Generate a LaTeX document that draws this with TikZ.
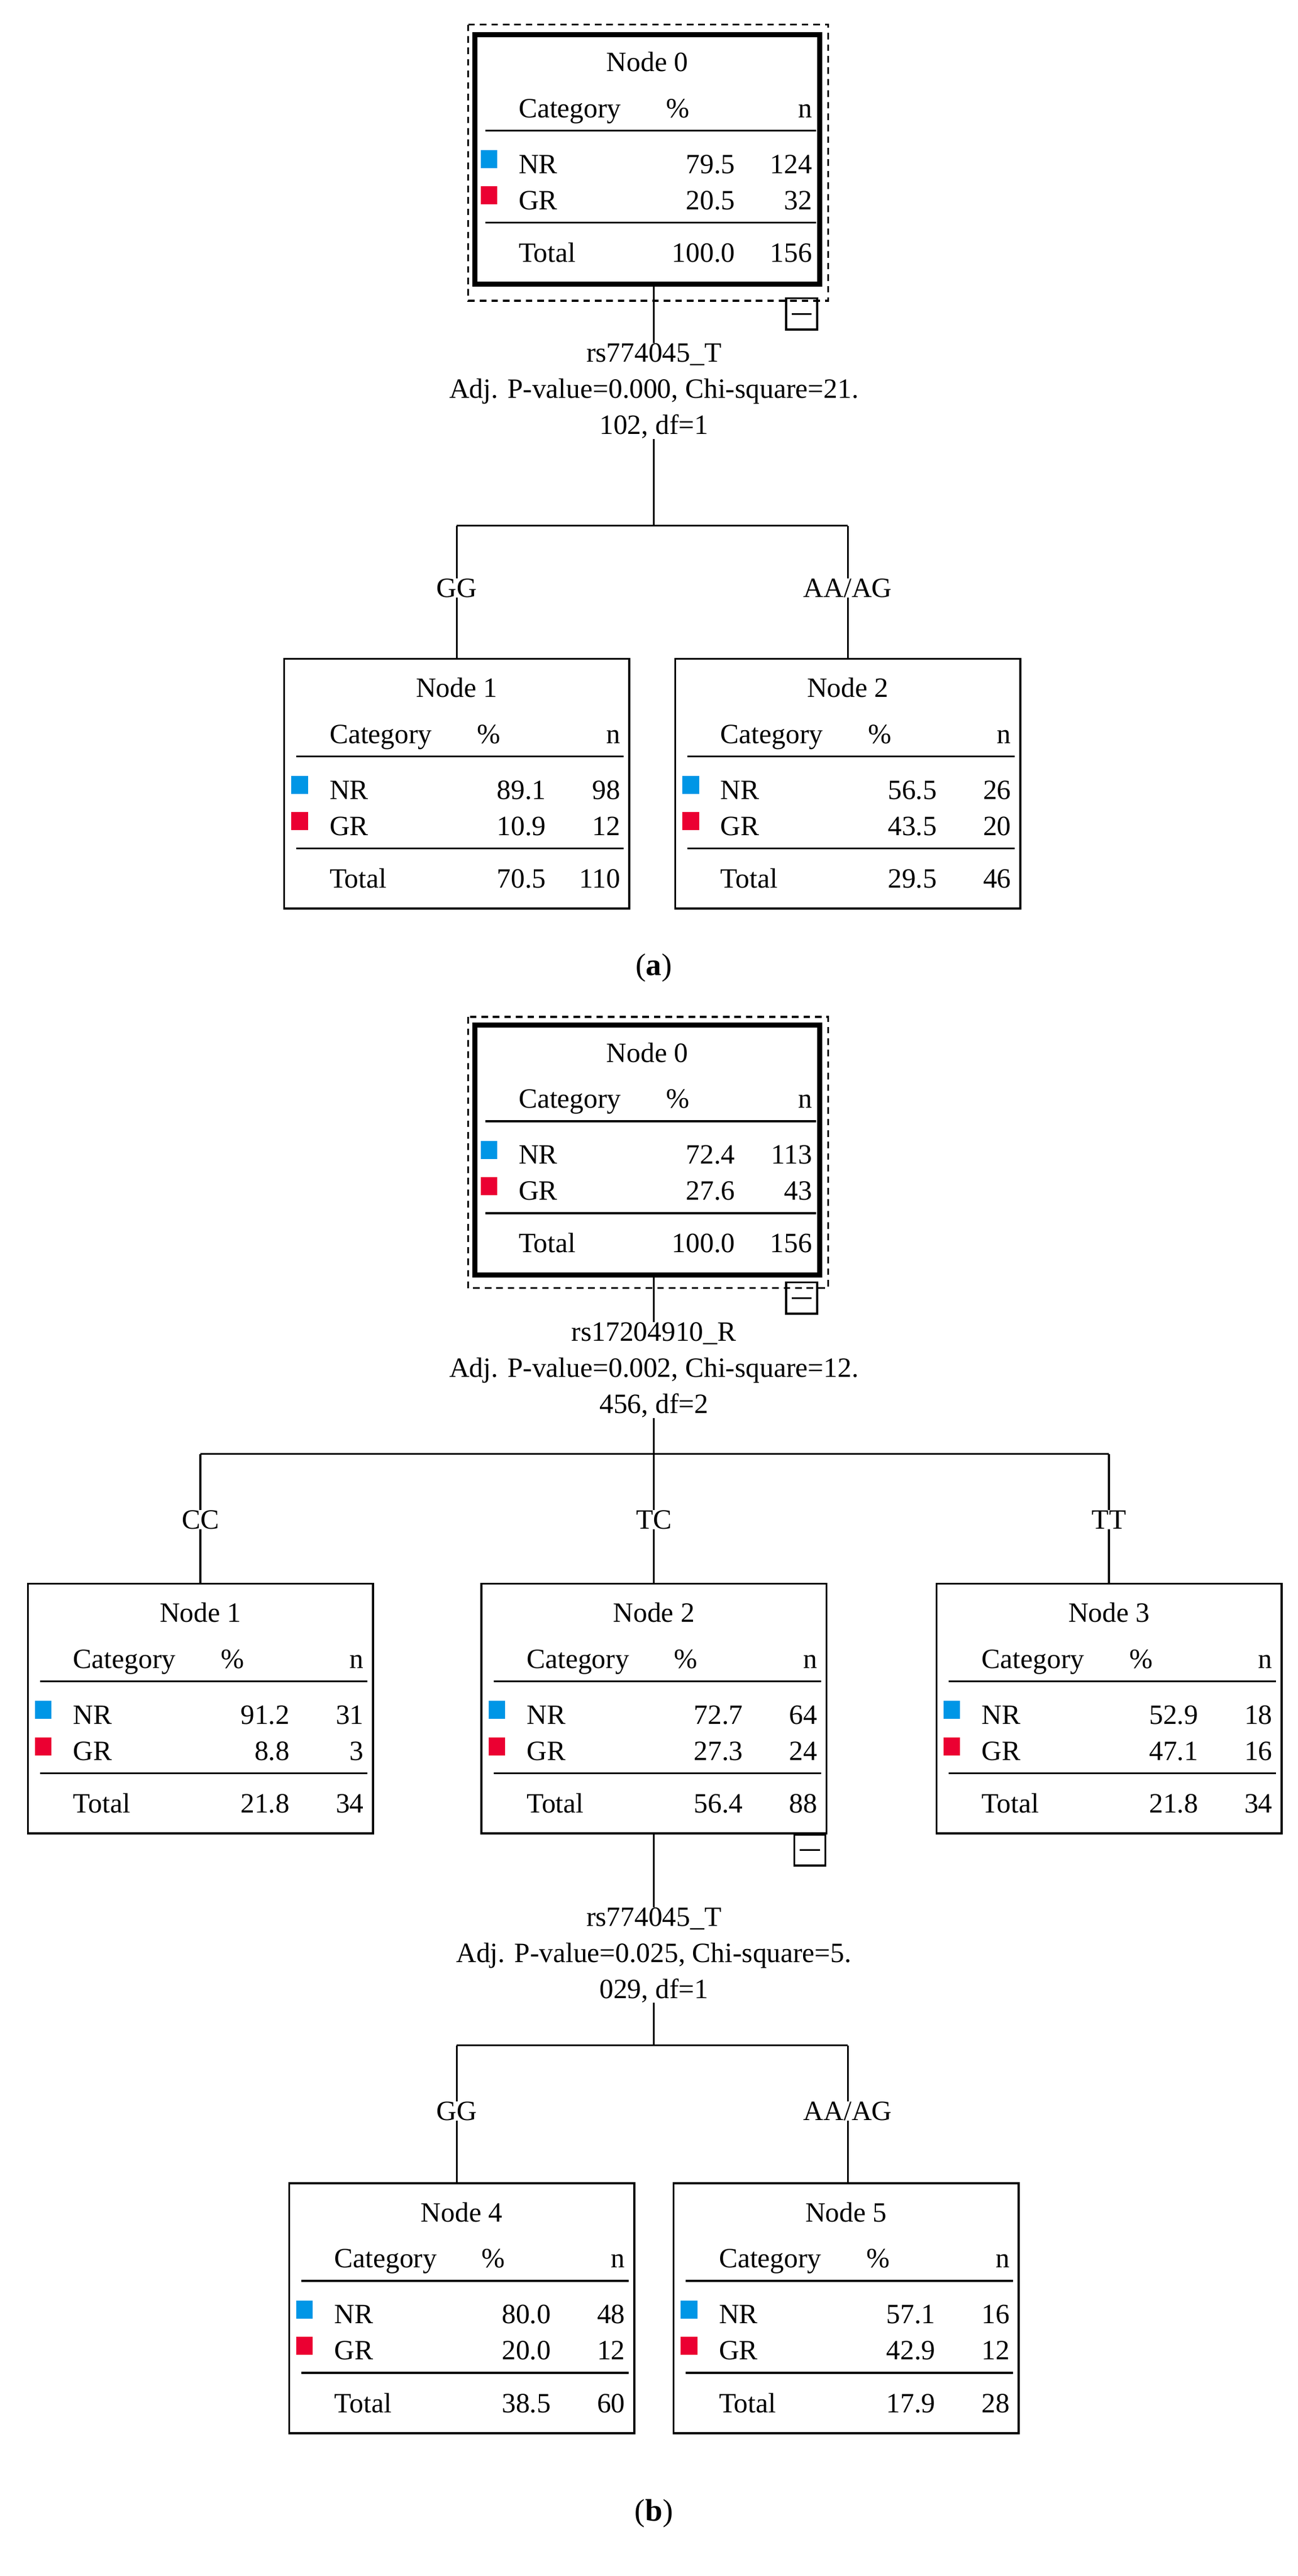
\documentclass[tikz,border=0pt]{standalone}
\usepackage{fontspec}
\setmainfont{Liberation Serif}
\usetikzlibrary{positioning}
\definecolor{nrblue}{RGB}{0,150,230}
\definecolor{grred}{RGB}{235,0,50}

\tikzset{
  tree box/.style={draw,line width=1.2pt,minimum width=210pt,minimum height=152pt,inner sep=0pt},
  root box/.style={tree box,line width=3pt},
  cell/.style={inner sep=0pt,font=\fontsize{17}{19}\selectfont},
  split/.style={cell,align=center,font=\fontsize{17}{22}\selectfont},
  link/.style={line width=1.2pt},
}

% box with its table: style, name, centre, title, rows
\newcommand{\catbox}[7]{%
  \node[#1] (#2) at #3 {};
  \node[cell,anchor=base] at ([yshift=-24pt]#2.north) {#4};
  \node[cell,anchor=base west] at ([xshift=28pt,yshift=-52pt]#2.north west) {Category};
  \node[cell,anchor=base] at ([xshift=125pt,yshift=-52pt]#2.north west) {\%};
  \node[cell,anchor=base east] at ([xshift=-6pt,yshift=-52pt]#2.north east) {n};
  \draw[link] ([xshift=8pt,yshift=-60pt]#2.north west) -- ([xshift=-4pt,yshift=-60pt]#2.north east);
  \fill[nrblue] ([xshift=5pt,yshift=-72pt]#2.north west) rectangle +(10pt,-11pt);
  \fill[grred] ([xshift=5pt,yshift=-94pt]#2.north west) rectangle +(10pt,-11pt);
  \node[cell,anchor=base west] at ([xshift=28pt,yshift=-86pt]#2.north west) {NR};
  \node[cell,anchor=base west] at ([xshift=28pt,yshift=-108pt]#2.north west) {GR};
  \node[cell,anchor=base west] at ([xshift=28pt,yshift=-140pt]#2.north west) {Total};
  \draw[link] ([xshift=8pt,yshift=-116pt]#2.north west) -- ([xshift=-4pt,yshift=-116pt]#2.north east);
  \foreach \pc/\nn/\dy in {#5/86,#6/108,#7/140}{
    \node[cell,anchor=base east] at ([xshift=160pt,yshift=-\dy pt]#2.north west) {\pc};
    \node[cell,anchor=base east] at ([xshift=-6pt,yshift=-\dy pt]#2.north east) {\nn};
  }
}
\newcommand{\minusbox}[2]{%
  \node[draw,line width=1.2pt,minimum size=19pt,inner sep=0pt,anchor=north east] (#1) at (#2) {};
  \draw[link] ([xshift=4pt]#1.west) -- ([xshift=-4pt]#1.east);
}

\begin{document}
\begin{tikzpicture}[x=1pt,y=-1pt]
  \useasboundingbox (0,0) rectangle (790,1568);

  % panel (a)
  \catbox{root box}{a0}{(394,97)}{Node 0}{79.5/124}{20.5/32}{100.0/156}
  \draw[dashed,line width=1.2pt,dash pattern=on 4pt off 3pt] (285,15) rectangle (504,183);
  \minusbox{a0m}{498,181}
  \node[split] (a0s) at (398,238) {rs774045\_T\\Adj. P-value=0.000, Chi-square=21.\\102, df=1};
  \coordinate (a0j) at (398,320);
  \coordinate (a0l) at (278,320);
  \coordinate (a0r) at (516,320);
  \node[cell] (a0gg) at (278,358) {GG};
  \node[cell] (a0aa) at (516,358) {AA/AG};
  \catbox{tree box}{a1}{(278,477)}{Node 1}{89.1/98}{10.9/12}{70.5/110}
  \catbox{tree box}{a2}{(516,477)}{Node 2}{56.5/26}{43.5/20}{29.5/46}
  \draw[link] (a0s.north |- a0.south) -- (a0s.north);
  \draw[link] (a0s.south) -- (a0j);
  \draw[link] (a0l) -- (a0r);
  \draw[link] (a0l) -- (a0gg.north);
  \draw[link] (a0r) -- (a0aa.north);
  \draw[link] (a0gg.south) -- (a1.north);
  \draw[link] (a0aa.south) -- (a2.north);
  \node[cell,font=\fontsize{19}{21}\selectfont] (capa) at (398,589) {(\textbf{a})};

  % panel (b)
  \catbox{root box}{b0}{(394,700)}{Node 0}{72.4/113}{27.6/43}{100.0/156}
  \draw[dashed,line width=1.2pt,dash pattern=on 4pt off 3pt] (285,619) rectangle (504,784);
  \minusbox{b0m}{498,780}
  \node[split] (b0s) at (398,834) {rs17204910\_R\\Adj. P-value=0.002, Chi-square=12.\\456, df=2};
  \coordinate (b0j) at (398,885);
  \coordinate (b0l) at (122,885);
  \coordinate (b0r) at (675,885);
  \node[cell] (b0cc) at (122,925) {CC};
  \node[cell] (b0tc) at (398,925) {TC};
  \node[cell] (b0tt) at (675,925) {TT};
  \catbox{tree box}{b1}{(122,1040)}{Node 1}{91.2/31}{8.8/3}{21.8/34}
  \catbox{tree box}{b2}{(398,1040)}{Node 2}{72.7/64}{27.3/24}{56.4/88}
  \catbox{tree box}{b3}{(675,1040)}{Node 3}{52.9/18}{47.1/16}{21.8/34}
  \minusbox{b2m}{503,1116}
  \draw[link] (b0s.north |- b0.south) -- (b0s.north);
  \draw[link] (b0s.south) -- (b0j);
  \draw[link] (b0l) -- (b0r);
  \draw[link] (b0l) -- (b0cc.north);
  \draw[link] (b0j) -- (b0tc.north);
  \draw[link] (b0r) -- (b0tt.north);
  \draw[link] (b0cc.south) -- (b1.north);
  \draw[link] (b0tc.south) -- (b2.north);
  \draw[link] (b0tt.south) -- (b3.north);

  \node[split] (b2s) at (398,1190) {rs774045\_T\\Adj. P-value=0.025, Chi-square=5.\\029, df=1};
  \coordinate (b2j) at (398,1245);
  \coordinate (b2l) at (278,1245);
  \coordinate (b2r) at (516,1245);
  \node[cell] (b2gg) at (278,1285) {GG};
  \node[cell] (b2aa) at (516,1285) {AA/AG};
  \catbox{tree box}{b4}{(281,1405)}{Node 4}{80.0/48}{20.0/12}{38.5/60}
  \catbox{tree box}{b5}{(515,1405)}{Node 5}{57.1/16}{42.9/12}{17.9/28}
  \draw[link] (b2.south) -- (b2s.north);
  \draw[link] (b2s.south) -- (b2j);
  \draw[link] (b2l) -- (b2r);
  \draw[link] (b2l) -- (b2gg.north);
  \draw[link] (b2r) -- (b2aa.north);
  \draw[link] (b2gg.south) -- (b2gg.south |- b4.north);
  \draw[link] (b2aa.south) -- (b2aa.south |- b5.north);
  \node[cell,font=\fontsize{19}{21}\selectfont] (capb) at (398,1530) {(\textbf{b})};
\end{tikzpicture}
\end{document}
